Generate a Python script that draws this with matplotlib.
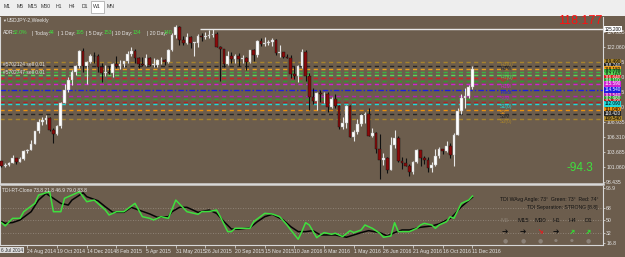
import matplotlib
matplotlib.use('Agg')
import matplotlib.pyplot as plt
import matplotlib.transforms as mtransforms
from matplotlib.patches import Rectangle
import numpy as np
import pandas as pd

plt.rcParams['font.family'] = ['Liberation Sans', 'DejaVu Sans']

W, H = 625, 257
BG = '#6c5d4d'

# weekly USDJPY candles, first bar 6 Jul 2014
dates = pd.date_range('2014-07-06', periods=128, freq='7D')
opens = [102.05, 101.32, 101.35, 101.82, 102.58, 102.02, 102.43, 103.82, 104.08, 105.10,
         107.35, 108.95, 109.25, 109.70, 107.55, 106.90, 108.15, 112.30, 114.60, 116.30,
         117.75, 118.65, 121.40, 118.75, 119.45, 120.50, 120.45, 118.55, 117.50, 117.70,
         117.45, 119.10, 118.75, 119.05, 119.60, 120.80, 121.40, 120.05, 119.15, 118.95,
         120.20, 118.95, 118.95, 119.75, 119.75, 119.35, 121.55, 124.10, 125.60, 123.35,
         122.70, 123.85, 122.75, 122.75, 124.00, 123.80, 123.90, 124.20, 124.35, 122.00,
         121.70, 119.00, 120.55, 120.00, 120.55, 119.90, 120.20, 119.45, 121.45, 120.60,
         123.15, 122.60, 122.80, 122.85, 123.25, 120.95, 121.20, 120.30, 120.20, 117.25,
         117.00, 118.75, 121.10, 116.90, 113.25, 112.60, 113.95, 113.75, 113.80, 111.55,
         113.00, 111.65, 108.05, 108.75, 111.80, 106.30, 107.15, 108.60, 110.15, 110.25,
         106.55, 107.00, 104.15, 102.20, 102.55, 100.60, 104.85, 106.15, 102.05, 101.80,
         101.25, 100.20, 101.85, 103.95, 102.65, 102.30, 100.95, 101.35, 102.90, 104.25,
         103.80, 104.70, 103.10, 106.65, 110.90, 113.20, 113.55, 115.10]
highs = [102.10, 101.75, 101.90, 103.15, 102.68, 102.80, 104.05, 104.20, 105.70, 107.40,
         109.45, 109.75, 110.09, 109.75, 107.85, 108.38, 112.45, 115.60, 116.80, 118.00,
         118.98, 121.45, 121.85, 119.60, 120.83, 121.10, 120.75, 119.20, 118.85, 118.70,
         119.25, 120.48, 119.70, 119.65, 121.28, 122.03, 121.65, 120.30, 120.35, 120.85,
         120.35, 120.10, 120.00, 120.25, 120.00, 121.75, 124.45, 125.86, 125.75, 123.95,
         124.45, 123.90, 122.95, 124.40, 124.45, 124.60, 125.05, 125.28, 124.65, 122.25,
         121.75, 121.30, 121.10, 120.90, 120.95, 120.70, 120.35, 121.50, 121.75, 123.25,
         123.60, 123.75, 123.25, 123.70, 123.50, 122.45, 121.25, 120.75, 120.60, 118.80,
         118.85, 121.70, 121.50, 117.55, 114.85, 114.10, 114.55, 114.15, 114.20, 113.30,
         113.80, 111.85, 109.75, 111.90, 111.90, 107.50, 109.40, 110.35, 110.60, 111.45,
         107.90, 107.10, 106.80, 103.50, 102.85, 106.30, 107.50, 106.50, 102.80, 102.65,
         101.60, 102.05, 104.20, 104.05, 102.95, 102.80, 101.90, 104.15, 104.60, 104.25,
         105.55, 105.20, 106.95, 111.35, 113.90, 114.85, 115.40, 118.66]
lows = [101.08, 101.07, 101.25, 101.70, 101.52, 101.95, 102.35, 103.50, 104.00, 105.00,
        107.00, 108.35, 108.65, 107.40, 105.20, 106.60, 107.80, 112.25, 114.10, 115.45,
        117.15, 118.40, 117.75, 115.55, 119.30, 119.30, 117.75, 115.85, 117.00, 117.25,
        116.85, 118.45, 118.15, 118.50, 119.30, 120.55, 119.28, 118.30, 118.70, 118.70,
        118.80, 118.55, 118.50, 119.00, 118.85, 119.30, 121.40, 123.70, 122.45, 122.45,
        122.60, 121.95, 120.40, 122.10, 123.10, 123.40, 123.70, 123.80, 122.00, 116.15,
        118.60, 118.90, 119.25, 119.20, 118.70, 119.30, 118.05, 119.20, 119.60, 120.25,
        122.25, 122.20, 122.35, 122.20, 120.60, 120.30, 120.15, 120.05, 116.70, 116.50,
        115.95, 118.40, 116.05, 110.95, 112.15, 110.95, 112.40, 112.20, 110.65, 111.35,
        111.30, 107.65, 107.65, 107.90, 106.30, 105.55, 106.90, 108.20, 108.70, 106.50,
        106.25, 103.55, 99.00, 101.45, 99.95, 100.60, 104.30, 101.95, 100.70, 101.20,
        99.55, 99.75, 101.80, 101.20, 101.50, 100.10, 100.10, 101.25, 102.70, 103.25,
        103.60, 102.55, 101.20, 106.60, 110.25, 111.35, 113.15, 114.75]
closes = [101.32, 101.35, 101.82, 102.58, 102.02, 102.43, 103.82, 104.08, 105.10, 107.35,
          108.95, 109.25, 109.70, 107.55, 106.90, 108.15, 112.30, 114.60, 116.30, 117.75,
          118.65, 121.40, 118.75, 119.45, 120.50, 120.45, 118.55, 117.50, 117.70, 117.45,
          119.10, 118.75, 119.05, 119.60, 120.80, 121.40, 120.05, 119.15, 118.95, 120.20,
          118.95, 118.95, 119.75, 119.75, 119.35, 121.55, 124.10, 125.60, 123.35, 122.70,
          123.85, 122.75, 122.75, 124.00, 123.80, 123.90, 124.20, 124.35, 122.00, 121.70,
          119.00, 120.55, 120.00, 120.55, 119.90, 120.20, 119.45, 121.45, 120.60, 123.15,
          122.60, 122.80, 122.85, 123.25, 120.95, 121.20, 120.30, 120.20, 117.25, 117.00,
          118.75, 121.10, 116.90, 113.25, 112.60, 113.95, 113.75, 113.80, 111.55, 113.00,
          111.65, 108.05, 108.75, 111.80, 106.30, 107.15, 108.60, 110.15, 110.25, 106.55,
          107.00, 104.15, 102.20, 102.55, 100.60, 104.85, 106.15, 102.05, 101.80, 101.25,
          100.20, 101.85, 103.95, 102.65, 102.30, 100.95, 101.35, 102.90, 104.25, 103.80,
          104.70, 103.10, 106.65, 110.90, 113.20, 113.55, 115.10, 118.18]

# pivot / order levels drawn across the chart
level_prices = [119.49, 118.74, 118.18, 117.77, 117.16, 116.64, 116.11, 115.59,
                114.54, 113.54, 112.96, 112.49, 112.09, 111.04, 110.42, 109.54]
level_colors = ['#a8842c', '#262626', '#e8a020', '#3cb043', '#58d858', '#d42020',
                '#2e9e2e', '#d020d0', '#1c1ce0', '#b020b8', '#2e9e2e', '#b02020',
                '#20d8d8', '#e89010', '#262626', '#a8842c']
level_names = ['R3(0)', 'R3M', '', 'R2(0)', 'R1(0)', 'R1', 'M4', 'R1M', 'Pivot',
               'S1M', 'S1', '', 'S1(0)', 'S2', 'S3M', 'S3(0)']
top_line = 125.20
bid = '118.177'
big_value = '-94.3'

price_ticks = [98.435, 101.060, 103.685, 106.310, 108.935, 111.560, 114.185,
               116.810, 119.435, 122.060, 124.685]

# TDI lines (bar index, value)
green_idx = [0, 1, 3, 5, 6, 9, 10, 13, 14, 16, 17, 19, 21, 23, 25, 28, 29, 31, 33, 36,
             38, 40, 41, 43, 45, 47, 50, 53, 54, 56, 58, 59, 61, 62, 63, 65, 67, 68, 71,
             73, 75, 77, 78, 80, 81, 82, 83, 85, 86, 87, 89, 90, 92, 94, 95, 97, 98, 100,
             102, 103, 105, 106, 107, 108, 110, 112, 113, 114, 116, 117, 118, 120, 121,
             122, 124, 126, 127]
green_val = [46.9, 42.1, 53.1, 53.1, 62.7, 74.7, 86.7, 91.5, 62.7, 62.7, 82.0, 86.7,
             91.5, 77.1, 79.5, 65.1, 57.9, 62.7, 62.7, 74.7, 55.5, 53.1, 50.7, 55.5, 53.1,
             79.5, 62.7, 58.9, 62.7, 63.0, 65.1, 55.5, 33.9, 33.9, 38.7, 38.7, 38.7, 48.3,
             60.3, 59.4, 55.5, 43.5, 36.3, 22.9, 33.9, 46.9, 43.5, 25.2, 29.1, 32.5, 30.1,
             31.6, 26.7, 35.3, 32.5, 36.3, 43.5, 38.7, 31.6, 25.8, 27.7, 46.9, 33.9, 33.9,
             33.9, 38.7, 43.5, 45.9, 43.5, 38.7, 43.5, 48.3, 55.5, 53.1, 74.7, 79.5, 85.3]
black_idx = [0, 1, 3, 5, 8, 10, 12, 14, 16, 18, 19, 22, 23, 26, 28, 30, 33, 35, 37, 40,
             42, 45, 46, 48, 50, 53, 56, 58, 60, 62, 64, 67, 69, 71, 73, 76, 78, 80, 82,
             84, 86, 88, 90, 93, 95, 97, 99, 102, 104, 106, 108, 110, 113, 116, 118, 121,
             122, 124, 127]
black_val = [48.3, 46.0, 47.0, 50.7, 62.7, 79.5, 89.1, 82.0, 74.7, 72.3, 79.5, 90.0,
             84.3, 78.5, 69.9, 61.8, 61.8, 69.0, 65.1, 59.4, 54.6, 55.5, 62.7, 69.0, 69.0,
             61.8, 65.1, 60.3, 48.3, 37.7, 37.3, 39.6, 48.3, 55.5, 58.9, 50.7, 41.1, 33.9,
             33.9, 35.3, 29.1, 29.1, 29.1, 25.8, 29.1, 32.5, 35.3, 32.5, 27.7, 32.5, 36.3,
             36.3, 40.2, 42.1, 45.0, 53.1, 57.9, 69.9, 83.4]
tdi_ticks = [16.8, 32, 50, 68, 96.9]
tdi_tick_labels = ['16.8', '32', '50', '68', '96.9']

timeframes = ['M5', 'M15', 'M30', 'H1', 'H4', 'D1']
tf_arrow_angle = [0, 0, -45, 0, 45, 45]
tf_arrow_color = ['#111111', '#111111', '#e02020', '#111111', '#30e030', '#30e030']

toolbar_buttons = ['M1', 'M5', 'M15', 'M30', 'H1', 'H4', 'D1', 'W1', 'MN']

adr_parts = [('ADR:', 'w'), ('32.0%', 'g'), ('| Today:', 'w'), ('44', 'g'),
             ('| 1 Day:', 'w'), ('195', 'g'), ('| 5 Day:', 'w'), ('153', 'g'),
             ('| 10 Day:', 'w'), ('134', 'g'), ('| 20 Day:', 'w'), ('140', 'g')]
adr_x = [3, 12.5, 32, 49, 58, 75.5, 86, 104, 112.5, 133, 147, 164]

SMALL = 3.7


def fr(x0, y0, x1, y1):
    return [x0 / W, 1 - y1 / H, (x1 - x0) / W, (y1 - y0) / H]


def fx(px):
    return px / W


def fy(py):
    return 1 - py / H


fig = plt.figure(figsize=(W / 100, H / 100), dpi=100)
fig.patch.set_facecolor(BG)

# toolbar strip
fig.add_artist(Rectangle((0, fy(16)), 1, 16 / H, transform=fig.transFigure,
                         fc='#eeeeee', ec='none'))
for k, name in enumerate(toolbar_buttons):
    cx = 7 + k * 12.9
    if name == 'W1':
        fig.add_artist(Rectangle((fx(cx - 6.5), fy(13)), 13 / W, 12 / H,
                                 transform=fig.transFigure, fc='white', ec='#a0a0a0', lw=0.5))
    fig.text(fx(cx), fy(7), name, fontsize=SMALL, color='#333333', ha='center', va='center')

ax = fig.add_axes(fr(0, 17, 603, 184))
axi = fig.add_axes(fr(0, 186, 603, 245))
xlim = (-0.4, 162.2)

for a in (ax, axi):
    a.set_facecolor(BG)
    a.set_xlim(*xlim)
    a.yaxis.tick_right()
    a.tick_params(axis='y', colors='#e6e6e6', labelsize=SMALL, length=1.5, width=0.5, pad=0.8)
    for s in a.spines.values():
        s.set_color('#d8d8d8')
        s.set_linewidth(0.8)
    a.spines['top'].set_visible(False)

ax.spines['bottom'].set_linewidth(1.8)
ax.set_ylim(98.085, 127.31)
ax.set_xticks([])
ax.set_yticks(price_ticks)
ax.set_yticklabels([f'{v:.3f}' for v in price_ticks])

# candles
x = np.arange(len(closes))
o, h, l, c = map(np.array, (opens, highs, lows, closes))
up = c >= o
lo = np.minimum(o, c)
hgt = np.maximum(np.abs(c - o), 0.1)
ax.vlines(x[up], l[up], h[up], color='#e8e8e8', lw=0.8, zorder=3)
ax.vlines(x[~up], l[~up], h[~up], color='#101010', lw=0.8, zorder=3)
ax.bar(x[up], hgt[up], bottom=lo[up], width=0.72, color='white', edgecolor='#b0b0b0',
       lw=0.3, zorder=4)
ax.bar(x[~up], hgt[~up], bottom=lo[~up], width=0.72, color='#8a0a0a', edgecolor='#101010',
       lw=0.3, zorder=4)

# levels
blend = mtransforms.blended_transform_factory(ax.transAxes, ax.transData)
for p, col, name in zip(level_prices, level_colors, level_names):
    ls = (0, (4, 1.5, 1, 1.5)) if name == 'Pivot' else (0, (3, 2.5))
    ax.axhline(p, color=col, lw=1.0, ls=ls, zorder=2)
    if name:
        ax.text(134.5, p, name, color=col, fontsize=SMALL, va='top', ha='left', zorder=5)
    r, g, b = matplotlib.colors.to_rgb(col)
    tc = 'black' if (0.3 * r + 0.59 * g + 0.11 * b) > 0.5 else 'white'
    ax.text(1.003, p, f'{p:.3f}', transform=blend, fontsize=3.3, color=tc, va='center',
            ha='left', clip_on=False, zorder=6,
            bbox=dict(boxstyle='square,pad=0.08', fc=col, ec='none'))

ax.hlines(top_line, 53.5, xlim[1], color='#e8e8e8', lw=1.0, zorder=2)
ax.text(1.003, top_line, f'{top_line:.3f}', transform=blend, fontsize=3.3, color='black',
        va='center', ha='left', clip_on=False, zorder=6,
        bbox=dict(boxstyle='square,pad=0.08', fc='white', ec='none'))

# header texts
fig.text(fx(2), fy(20.5), '▼', fontsize=2.8, color='#e6e6e6', va='center')
fig.text(fx(7), fy(20.5), 'USDJPY-2,Weekly', fontsize=SMALL, color='#e6e6e6', va='center')
for px, (txt, kind) in zip(adr_x, adr_parts):
    fig.text(fx(px), fy(33), txt, fontsize=SMALL, va='center',
             color='#3ee03e' if kind == 'g' else '#e6e6e6')
fig.text(fx(3), fy(65), '#5702124 sell 0.01', fontsize=3.5, color='#e0e0e0', va='center')
fig.text(fx(3), fy(72), '#5702747 sell 0.01', fontsize=3.5, color='#e0e0e0', va='center')
fig.text(fx(602), fy(21), bid, fontsize=9, color='#ff1010', ha='right', va='center',
         family=['Liberation Sans Narrow', 'Liberation Sans'])
fig.text(fx(593), fy(168), big_value, fontsize=8.5, color='#3ee03e', ha='right', va='center',
         family=['Liberation Sans Narrow', 'Liberation Sans'])

# TDI panel
axi.set_ylim(14.6, 99.8)
axi.set_yticks(tdi_ticks)
axi.set_yticklabels(tdi_tick_labels)
for v in (68, 50, 32):
    axi.axhline(v, color='#9a8f84', lw=0.6, ls=(0, (1, 2)))
axi.plot(black_idx, black_val, color='#050505', lw=1.1)
axi.plot(green_idx, green_val, color='#3ee03e', lw=1.1)
axi.text(0.003, 0.93, 'TDI-RT-Clone 73.8 21.8 46.9 79.0 83.8', transform=axi.transAxes,
         fontsize=3.5, color='#e6e6e6', va='center')

lab_idx = list(range(7, len(dates), 8))
axi.set_xticks(lab_idx)
axi.set_xticklabels([f'{dates[i].day} {dates[i]:%b %Y}' for i in lab_idx], ha='left')
axi.tick_params(axis='x', colors='#e6e6e6', labelsize=SMALL, length=2, width=0.5, pad=1)
fig.text(fx(1), fy(250), f'{dates[0].day} {dates[0]:%b %Y}', fontsize=3.4, color='#333333',
         va='center', bbox=dict(boxstyle='square,pad=0.15', fc='#dcdcdc', ec='none'))

fig.text(fx(598), fy(199), 'TDI WAvg Angle: 73°  Green: 73°  Red: 74°', fontsize=SMALL,
         color='#111111', ha='right', va='center')
fig.text(fx(598), fy(207), 'TDI Separation: STRONG [8.8]', fontsize=SMALL,
         color='#111111', ha='right', va='center')
tf_x = [505, 523, 540, 556, 572, 588]
for k, name in enumerate(timeframes):
    cx = tf_x[k]
    fig.text(fx(cx), fy(220), name, fontsize=4.3, ha='center', va='center',
             color='#8a7f72' if k == 0 else '#111111')
    fig.text(fx(cx), fy(231), '➔', fontsize=5.5, ha='center', va='center',
             rotation=tf_arrow_angle[k], color=tf_arrow_color[k], family='DejaVu Sans')
    fig.text(fx(cx), fy(240.5), '●', fontsize=3.2 if k in (3, 4) else 4.2, ha='center',
             va='center', color='#8c8278', family='DejaVu Sans')

fig.savefig('out.png', dpi=100, facecolor=fig.get_facecolor())
